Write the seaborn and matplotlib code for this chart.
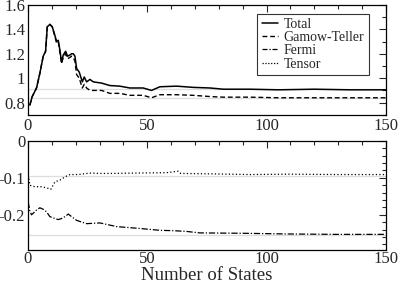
import numpy as np
import pandas as pd
import matplotlib
matplotlib.use("Agg")
import matplotlib.pyplot as plt
from matplotlib.ticker import MultipleLocator
import seaborn as sns

# values
total_x = [0.8, 1.8, 3.6, 5, 6.4, 7.4, 8.1, 9.2, 10.2, 11.3, 12, 12.7, 13.4, 14.1, 14.8, 15.8,
           16.6, 17.6, 18.3, 19, 19.7, 20.4, 21.5, 22.8, 23.6, 24.6, 26, 27.4, 30.9, 34.3,
           38.5, 42.7, 48.3, 51.8, 55.3, 62.3, 69.3, 76.3, 81.9, 93, 105, 120, 135, 150]
total = [0.78, 0.85, 0.92, 1.04, 1.18, 1.22, 1.42, 1.44, 1.42, 1.35, 1.30, 1.31, 1.23, 1.13,
         1.19, 1.22, 1.18, 1.19, 1.20, 1.20, 1.18, 1.08, 1.05, 0.97, 1.01, 0.97, 0.99, 0.97,
         0.96, 0.94, 0.935, 0.92, 0.92, 0.90, 0.93, 0.935, 0.925, 0.92, 0.91, 0.91, 0.905,
         0.91, 0.905, 0.905]
gt = [0.78, 0.85, 0.92, 1.04, 1.18, 1.22, 1.42, 1.44, 1.42, 1.34, 1.29, 1.30, 1.21, 1.12,
      1.17, 1.20, 1.16, 1.17, 1.18, 1.17, 1.14, 1.03, 1.00, 0.92, 0.95, 0.92, 0.90, 0.90,
      0.90, 0.876, 0.876, 0.86, 0.86, 0.84, 0.865, 0.865, 0.86, 0.85, 0.845, 0.845, 0.84,
      0.84, 0.84, 0.84]

tensor_x = [0.4, 0.8, 2.9, 5.7, 7.8, 9.6, 11.3, 13.4, 16.2, 17.6, 21, 26, 30.2, 35.7, 45,
            58, 63, 64, 75, 93, 110, 130, 150]
tensor = [-0.102, -0.12, -0.124, -0.124, -0.127, -0.131, -0.111, -0.106, -0.095, -0.091,
          -0.091, -0.087, -0.088, -0.088, -0.087, -0.086, -0.082, -0.088, -0.089, -0.091,
          -0.09, -0.091, -0.091]

fermi_x = [0.1, 0.8, 1.5, 2.2, 3.6, 5, 6.4, 7.8, 9.2, 11.3, 12.7, 14.1, 15.5, 16.9, 18.3,
           20.4, 24.6, 30.2, 37.2, 46.9, 55.3, 60.9, 66.5, 72, 90, 110, 130, 150]
fermi = [-0.165, -0.19, -0.2, -0.196, -0.187, -0.181, -0.185, -0.192, -0.205, -0.21, -0.213,
         -0.21, -0.205, -0.198, -0.205, -0.215, -0.224, -0.222, -0.232, -0.237, -0.242,
         -0.243, -0.245, -0.249, -0.25, -0.252, -0.253, -0.253]

# asymptotic reference lines
top_ref = [0.91, 0.835]
bot_ref = [-0.094, -0.255]

sns.set_style("white")
plt.rcParams['font.family'] = ['Liberation Serif', 'DejaVu Serif']

fig = plt.figure(figsize=(3.99, 2.83), dpi=100)
ax1 = fig.add_axes([0.070, 0.594, 0.897, 0.389])
ax2 = fig.add_axes([0.070, 0.117, 0.897, 0.385])

for v in top_ref:
    ax1.axhline(v, color="#dddddd", lw=0.9, zorder=0)
for v in bot_ref:
    ax2.axhline(v, color="#dddddd", lw=0.9, zorder=0)

sns.lineplot(x=total_x, y=total, ax=ax1, color="black", lw=1.1, label="Total")
sns.lineplot(x=total_x, y=gt, ax=ax1, color="black", lw=1.0, label="Gamow-Teller",
             linestyle=(0, (3.5, 2)))
# empty entries so the legend lists all four parts
ax1.plot([], [], color="black", lw=0.9, linestyle=(0, (4, 1.5, 1, 1.5)), label="Fermi")
ax1.plot([], [], color="black", lw=0.9, linestyle=(0, (1, 1.3)), label="Tensor")

sns.lineplot(x=tensor_x, y=tensor, ax=ax2, color="black", lw=0.9, linestyle=(0, (1, 1.8)))
sns.lineplot(x=fermi_x, y=fermi, ax=ax2, color="black", lw=0.9,
             linestyle=(0, (5, 1.5, 1, 1.5)))

ax1.set_ylim(0.7, 1.6)
ax1.set_yticks([0.8, 1.0, 1.2, 1.4, 1.6])
ax1.set_yticklabels(["0.8", "1", "1.2", "1.4", "1.6"])
ax1.yaxis.set_minor_locator(MultipleLocator(0.1))
ax2.set_ylim(-0.295, 0)
ax2.set_yticks([-0.2, -0.1, 0])
ax2.set_yticklabels(["-0.2", "-0.1", "0"])
ax2.yaxis.set_minor_locator(MultipleLocator(0.02))

for ax in (ax1, ax2):
    ax.set_xlim(0, 150)
    ax.set_xticks([0, 50, 100, 150])
    ax.xaxis.set_minor_locator(MultipleLocator(10))
    ax.tick_params(which="both", direction="in", top=True, right=True, labelsize=12,
                   width=0.8, pad=2)
    ax.tick_params(which="major", length=5)
    ax.tick_params(which="minor", length=3)
    for s in ax.spines.values():
        s.set_linewidth(0.9)
        s.set_color("black")
    ax.set_xlabel("")
    ax.set_ylabel("")
ax2.tick_params(axis="x", pad=1)

leg = ax1.legend(loc="upper right", bbox_to_anchor=(0.952, 0.92), fontsize=10,
                 frameon=True, fancybox=False, edgecolor="black", handlelength=1.15,
                 borderpad=0.3, labelspacing=0.02, handletextpad=0.45, borderaxespad=0)
leg.get_frame().set_linewidth(0.8)

fig.text(0.519, 0.009, "Number of States", fontsize=13.5, ha="center", va="baseline")

fig.savefig("out.png", dpi=100)
